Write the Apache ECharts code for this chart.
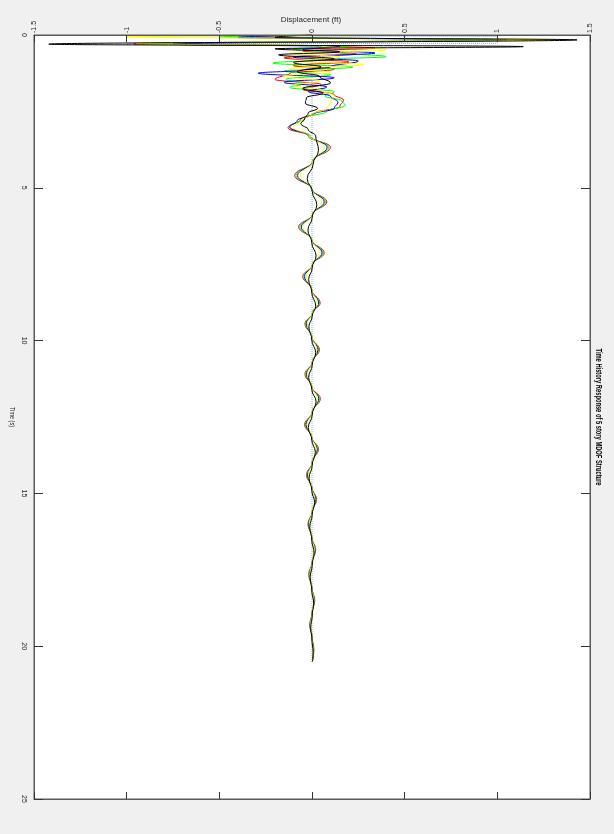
<!DOCTYPE html>
<html>
<head>
<meta charset="utf-8">
<script src="https://cdn.jsdelivr.net/npm/echarts@6/dist/echarts.min.js"></script>
<style>
html,body{margin:0;padding:0;background:#f0f0f0;}
#chart{width:614px;height:834px;}
</style>
</head>
<body>
<div id="chart"></div>
<script>
// ---- axis ticks ----
const dispTicks = [-1.5, -1, -0.5, 0, 0.5, 1, 1.5];
const timeTicks = [0, 5, 10, 15, 20, 25];

// ---- shared decay-phase time points (s) ----
const tailTime = [3.67,4.13,4.6,5.03,5.46,5.87,6.28,6.7,7.13,7.52,7.9,8.33,8.77,9.1,9.45,9.88,10.3,10.7,11.1,11.5,11.9,12.33,12.75,13.15,13.55,13.98,14.4,14.8,15.2,15.6,16.0,16.43,16.85,17.25,17.65,18.08,18.5,18.9,19.3,19.7,20.1,20.5];
const blackTailTime = [3.77,4.23,4.7,5.13,5.56,5.97,6.38,6.8,7.23,7.62,8.0,8.43,8.87,9.2,9.55,9.98,10.4,10.8,11.2,11.6,12.0,12.43,12.85,13.25,13.65,14.08,14.5,14.9,15.3,15.7,16.1,16.53,16.95,17.35,17.75,18.18,18.6,19.0,19.4,19.8,20.2,20.5];

// ---- red ----
const redEarlyTime = [0,0.06,0.16,0.29,0.36,0.43,0.52,0.62,0.75,0.88,1.0,1.12,1.25,1.45,1.62,1.78,1.95,2.13,2.34,2.55,2.75,3.04,3.3];
const redEarlyDisp = [0,-0.3,0.85,-0.96,0.1,0.34,-0.05,0.24,-0.15,0.2,-0.1,0.12,-0.12,-0.2,0.05,-0.05,0.12,0.17,0.15,0.02,-0.06,-0.13,-0.02];
const redTailDisp = [0.10,0.004,-0.094,-0.003,0.080,0.003,-0.072,-0.002,0.066,0.002,-0.050,-0.002,0.044,0.002,-0.038,-0.001,0.040,0.002,-0.038,-0.002,0.045,0.002,-0.040,-0.002,0.035,0.001,-0.030,-0.001,0.025,0.001,-0.022,-0.001,0.020,0.001,-0.018,-0.001,0.015,0.001,-0.012,0.000,0.010,0.002];

// ---- green ----
const greenEarlyTime = [0,0.07,0.15,0.29,0.37,0.46,0.58,0.71,0.8,0.92,1.05,1.18,1.3,1.45,1.6,1.72,1.85,2.0,2.15,2.3,2.5,2.72,3.0,3.3];
const greenEarlyDisp = [0,-0.5,1.0,-0.9,0.2,-0.1,0.15,0.4,0.05,-0.21,0.22,-0.15,0.1,-0.14,-0.05,-0.12,0.12,0.07,0.16,0.18,0.08,-0.04,-0.12,-0.02];
const greenTailDisp = [0.090,0.004,-0.086,-0.003,0.073,0.003,-0.066,-0.002,0.060,0.002,-0.045,-0.002,0.040,0.002,-0.035,-0.001,0.036,0.002,-0.034,-0.002,0.040,0.002,-0.036,-0.002,0.032,0.001,-0.027,-0.001,0.022,0.001,-0.020,-0.001,0.018,0.001,-0.016,-0.001,0.013,0.001,-0.011,0.000,0.009,0.002];

// ---- blue ----
const blueEarlyTime = [0,0.08,0.16,0.3,0.38,0.48,0.59,0.72,0.85,1.04,1.15,1.25,1.4,1.55,1.7,1.85,2.0,2.2,2.4,2.6,2.8,3.02,3.3];
const blueEarlyDisp = [0,-0.4,1.05,-0.75,0.15,-0.05,0.34,-0.1,0.25,0.1,-0.05,-0.29,0.12,-0.15,0.08,-0.02,0.1,0.14,0.12,0.0,-0.08,-0.12,-0.01];
const blueTailDisp = [0.082,0.004,-0.078,-0.003,0.066,0.003,-0.058,-0.002,0.054,0.002,-0.040,-0.002,0.036,0.002,-0.031,-0.001,0.032,0.002,-0.030,-0.002,0.036,0.002,-0.032,-0.002,0.028,0.001,-0.024,-0.001,0.020,0.001,-0.018,-0.001,0.016,0.001,-0.014,-0.001,0.012,0.001,-0.010,0.000,0.008,0.002];

// ---- yellow ----
const yellowEarlyTime = [0,0.06,0.16,0.28,0.36,0.49,0.6,0.72,0.85,0.97,1.1,1.22,1.35,1.5,1.65,1.8,2.0,2.2,2.4,2.6,2.8,3.02,3.3];
const yellowEarlyDisp = [0,-1.0,1.29,-0.95,0.05,0.4,-0.12,0.15,-0.08,0.28,-0.12,0.1,-0.16,0.04,-0.1,0.05,0.12,0.1,0.08,0.0,-0.06,-0.1,-0.01];
const yellowTailDisp = [0.068,0.004,-0.062,-0.003,0.052,0.003,-0.048,-0.002,0.044,0.002,-0.032,-0.002,0.029,0.002,-0.025,-0.001,0.026,0.002,-0.025,-0.002,0.029,0.002,-0.026,-0.002,0.023,0.001,-0.020,-0.001,0.016,0.001,-0.015,-0.001,0.013,0.001,-0.012,-0.001,0.010,0.001,-0.008,0.000,0.006,0.002];

// ---- black ----
const blackEarlyTime = [0,0.08,0.16,0.3,0.38,0.45,0.55,0.65,0.78,0.9,1.05,1.2,1.35,1.57,1.75,1.9,2.05,2.23,2.4,2.55,2.75,2.9,3.1,3.3];
const blackEarlyDisp = [0,-0.2,1.43,-1.42,1.14,-0.2,0.15,-0.18,0.12,-0.1,0.05,-0.08,0.04,0.1,-0.05,0.06,-0.03,-0.036,0.03,-0.02,-0.04,-0.06,-0.02,0.02];
const blackTailDisp = [0.035,0.006,-0.026,0.002,0.026,0.001,-0.022,-0.001,0.022,0.001,-0.018,-0.001,0.020,0.001,-0.017,-0.001,0.020,0.001,-0.018,-0.001,0.022,0.001,-0.020,-0.001,0.018,0.001,-0.016,-0.001,0.014,0.001,-0.012,-0.001,0.011,0.001,-0.010,-0.001,0.009,0.001,-0.007,0.000,0.006,0.002];

// ---- ground (dotted light blue) ----
const groundTime = [0,0.03,0.05,0.27,0.29,0.35,20.5];
const groundDisp = [0,-1,1,1,-1,0,0];

function pairs(times, disps){ return times.map((t,i)=>[disps[i], t]); }

const chart = echarts.init(document.getElementById('chart'), null, {renderer:'canvas'});

function lineSeries(name, color, data, extra){
  return Object.assign({
    name, type:'line', data, xAxisIndex:0, yAxisIndex:0,
    showSymbol:false, symbol:'none', smooth:0.45, smoothMonotone:'y',
    lineStyle:{color, width:1}, itemStyle:{color}, silent:true, z:3
  }, extra||{});
}

// measure helper for condensed text
const mctx = document.createElement('canvas').getContext('2d');
function widthOf(text, font){ mctx.font = font; return mctx.measureText(text).width; }
const titleText = 'Time History Response of 5 story MDOF Structure';
const titleFont = 'bold 9px Arial';
const titleScale = 137 / widthOf(titleText, titleFont);
const ylabText = 'Time (s)';
const ylabFont = '8px Arial';
const ylabScale = 20 / widthOf(ylabText, ylabFont);
const xlabText = 'Displacement (ft)';
const xlabFont = '8px Arial';

const axisCol = '#5a5a5a';
const labelCol = '#262626';

const option = {
  animation:false,
  backgroundColor:'#f0f0f0',
  grid:{left:34, right:24, top:35, bottom:35, show:true, backgroundColor:'#ffffff', borderColor:axisCol, borderWidth:1, containLabel:false},
  xAxis:[
    {type:'value', position:'top', min:dispTicks[0], max:dispTicks[dispTicks.length-1], interval:0.5,
     axisLine:{show:true, onZero:false, lineStyle:{color:axisCol, width:1}},
     axisTick:{show:true, inside:true, length:7, lineStyle:{color:'#333'}},
     axisLabel:{show:true, rotate:-90, fontSize:7, color:labelCol, margin:2, fontFamily:'Arial',
       formatter:(v)=>String(v)},
     splitLine:{show:false}, z:5},
    {type:'value', position:'bottom', min:dispTicks[0], max:dispTicks[dispTicks.length-1], interval:0.5,
     axisLine:{show:true, onZero:false, lineStyle:{color:axisCol, width:1}},
     axisTick:{show:true, inside:true, length:7, lineStyle:{color:'#333'}},
     axisLabel:{show:false}, splitLine:{show:false}}
  ],
  yAxis:[
    {type:'value', position:'left', inverse:true, min:timeTicks[0], max:timeTicks[timeTicks.length-1], interval:5,
     axisLine:{show:true, onZero:false, lineStyle:{color:axisCol, width:1}},
     axisTick:{show:true, inside:true, length:9, lineStyle:{color:'#333'}},
     axisLabel:{show:true, rotate:-90, fontSize:7, color:labelCol, margin:7, fontFamily:'Arial'},
     splitLine:{show:false}},
    {type:'value', position:'right', inverse:true, min:timeTicks[0], max:timeTicks[timeTicks.length-1], interval:5,
     axisLine:{show:true, onZero:false, lineStyle:{color:axisCol, width:1}},
     axisTick:{show:true, inside:true, length:9, lineStyle:{color:'#333'}},
     axisLabel:{show:false}, splitLine:{show:false}}
  ],
  graphic:[
    {type:'text', x:311, y:20,
     style:{text:xlabText, font:xlabFont, fill:labelCol, textAlign:'center', textVerticalAlign:'middle'}},
    {type:'text', x:598, y:417, rotation:-Math.PI/2, scaleX:titleScale, scaleY:1,
     style:{text:titleText, font:titleFont, fill:'#000', textAlign:'center', textVerticalAlign:'middle'}},
    {type:'text', x:12, y:417, rotation:-Math.PI/2, scaleX:ylabScale, scaleY:1,
     style:{text:ylabText, font:ylabFont, fill:labelCol, textAlign:'center', textVerticalAlign:'middle'}}
  ],
  series:[
    lineSeries('ground', '#7aaee0', pairs(groundTime, groundDisp), {smooth:false, lineStyle:{color:'#7aaee0', width:1, type:'dotted'}, z:2}),
    lineSeries('red', '#ff0000', pairs(redEarlyTime.concat(tailTime), redEarlyDisp.concat(redTailDisp))),
    lineSeries('green', '#00ff00', pairs(greenEarlyTime.concat(tailTime), greenEarlyDisp.concat(greenTailDisp))),
    lineSeries('blue', '#0000ff', pairs(blueEarlyTime.concat(tailTime), blueEarlyDisp.concat(blueTailDisp))),
    lineSeries('yellow', '#ffff00', pairs(yellowEarlyTime.concat(tailTime), yellowEarlyDisp.concat(yellowTailDisp))),
    lineSeries('black', '#000000', pairs(blackEarlyTime.concat(blackTailTime), blackEarlyDisp.concat(blackTailDisp)))
  ]
};
chart.setOption(option);
</script>
</body>
</html>
